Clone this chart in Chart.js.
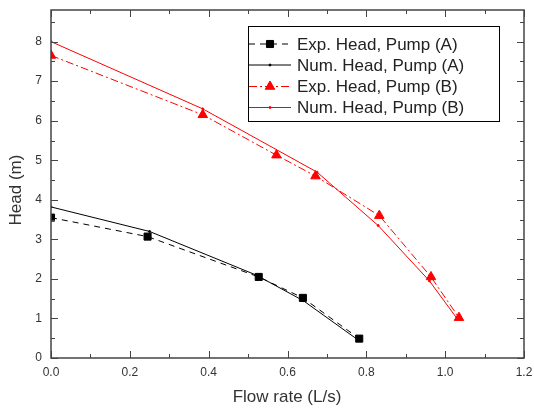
<!DOCTYPE html>
<html>
<head>
<meta charset="utf-8">
<script src="https://cdn.jsdelivr.net/npm/chart.js@4/dist/chart.umd.min.js"></script>
<style>
  html, body { margin: 0; padding: 0; background: #fff; }
  #wrap { width: 534px; height: 410px; }
</style>
</head>
<body>
<div id="wrap"><canvas id="chart" width="534" height="410"></canvas></div>
<script>
// values
var expAFlow = [0, 0.245, 0.527, 0.639, 0.782];
var expAHead = [3.55, 3.07, 2.05, 1.52, 0.49];
var numAFlow = [0, 0.25, 0.52, 0.64, 0.78];
var numAHead = [3.82, 3.2, 2.1, 1.45, 0.45];
var expBFlow = [0, 0.385, 0.572, 0.671, 0.833, 0.964, 1.035];
var expBHead = [7.65, 6.15, 5.13, 4.6, 3.6, 2.05, 1.02];
var numBFlow = [0, 0.385, 0.675, 0.83, 0.96, 1.03];
var numBHead = [8.0, 6.3, 4.7, 3.35, 1.95, 1.0];
var seriesLabels = ['Exp. Head, Pump (A)', 'Num. Head, Pump (A)', 'Exp. Head, Pump (B)', 'Num. Head, Pump (B)'];
var xTicks = [0, 0.2, 0.4, 0.6, 0.8, 1.0, 1.2];
var xMinorTicks = [0.1, 0.3, 0.5, 0.7, 0.9, 1.1];
var yTicks = [0, 1, 2, 3, 4, 5, 6, 7, 8];
var yMinorTicks = [0.5, 1.5, 2.5, 3.5, 4.5, 5.5, 6.5, 7.5, 8.5];
var xTitle = 'Flow rate (L/s)';
var yTitle = 'Head (m)';

var FONT = '"Liberation Sans", Arial, sans-serif';
Chart.defaults.font.family = FONT;

function pts(xs, ys) {
  return xs.map(function(x, i) { return { x: x, y: ys[i] }; });
}

var frame = {
  id: 'frame',
  afterDraw: function(chart) {
    var ctx = chart.ctx, a = chart.chartArea;
    var sx = chart.scales.x, sy = chart.scales.y;
    ctx.save();
    ctx.strokeStyle = '#444';
    ctx.lineWidth = 1.5;
    ctx.strokeRect(a.left, a.top, a.right - a.left, a.bottom - a.top);
    ctx.lineWidth = 1;
    function tickX(v, len) {
      var p = Math.round(sx.getPixelForValue(v)) + 0.5;
      ctx.beginPath();
      ctx.moveTo(p, a.bottom); ctx.lineTo(p, a.bottom - len);
      ctx.moveTo(p, a.top); ctx.lineTo(p, a.top + len);
      ctx.stroke();
    }
    function tickY(v, len) {
      var p = Math.round(sy.getPixelForValue(v)) + 0.5;
      ctx.beginPath();
      ctx.moveTo(a.left, p); ctx.lineTo(a.left + len, p);
      ctx.moveTo(a.right, p); ctx.lineTo(a.right - len, p);
      ctx.stroke();
    }
    xTicks.forEach(function(v) { tickX(v, 7); });
    xMinorTicks.forEach(function(v) { tickX(v, 4); });
    yTicks.forEach(function(v) { tickY(v, 7); });
    yMinorTicks.forEach(function(v) { tickY(v, 4); });

    // axis titles
    ctx.fillStyle = '#333';
    ctx.font = '17px ' + FONT;
    ctx.textAlign = 'center';
    ctx.textBaseline = 'middle';
    ctx.fillText(xTitle, 287, 397);
    ctx.save();
    ctx.translate(16, 190);
    ctx.rotate(-Math.PI / 2);
    ctx.fillText(yTitle, 0, 0);
    ctx.restore();

    // legend box
    var bx = 248, by = 26, bw = 251, bh = 95;
    ctx.fillStyle = '#fff';
    ctx.fillRect(bx, by, bw, bh);
    ctx.strokeStyle = '#000';
    ctx.lineWidth = 1;
    ctx.strokeRect(bx + 0.5, by + 0.5, bw, bh);
    var rows = [44, 65, 86.5, 107.5];
    chart.data.datasets.forEach(function(ds, i) {
      var y = rows[i];
      ctx.save();
      ctx.strokeStyle = ds.borderColor;
      ctx.lineWidth = ds.borderWidth;
      ctx.setLineDash(ds.borderDash || []);
      ctx.beginPath();
      ctx.moveTo(249, y); ctx.lineTo(291, y);
      ctx.stroke();
      ctx.setLineDash([]);
      ctx.fillStyle = ds.pointBackgroundColor;
      ctx.strokeStyle = ds.pointBorderColor;
      Chart.helpers.drawPoint(ctx, { pointStyle: ds.pointStyle, radius: ds.pointRadius, rotation: 0, borderWidth: 1 }, 270, y);
      ctx.restore();
      ctx.fillStyle = '#222';
      ctx.font = '17px ' + FONT;
      ctx.textAlign = 'left';
      ctx.textBaseline = 'middle';
      ctx.fillText(ds.label, 297, y + 1);
    });
    ctx.restore();
  }
};

new Chart(document.getElementById('chart'), {
  type: 'line',
  data: {
    datasets: [
      { label: seriesLabels[0], data: pts(expAFlow, expAHead), borderColor: '#000', borderWidth: 1,
        borderDash: [6, 5], pointStyle: 'rect', pointRadius: 5, pointBackgroundColor: '#000', pointBorderColor: '#000', clip: 0 },
      { label: seriesLabels[1], data: pts(numAFlow, numAHead), borderColor: '#000', borderWidth: 1,
        pointStyle: 'circle', pointRadius: 1, pointBackgroundColor: '#000', pointBorderColor: '#000', clip: 0 },
      { label: seriesLabels[2], data: pts(expBFlow, expBHead), borderColor: '#ff0000', borderWidth: 1,
        borderDash: [8, 3, 2, 3], pointStyle: 'triangle', pointRadius: 5.5, pointBackgroundColor: '#ff0000', pointBorderColor: '#ff0000', clip: 0 },
      { label: seriesLabels[3], data: pts(numBFlow, numBHead), borderColor: '#ff0000', borderWidth: 1,
        pointStyle: 'circle', pointRadius: 1, pointBackgroundColor: '#ff0000', pointBorderColor: '#ff0000', clip: 0 }
    ]
  },
  options: {
    responsive: false, animation: false,
    layout: { padding: { top: 10, right: 10, left: 0, bottom: 0 } },
    plugins: { legend: { display: false }, tooltip: { enabled: false } },
    scales: {
      x: {
        type: 'linear', min: 0, max: 1.2,
        grid: { display: false, drawTicks: false }, border: { display: false },
        ticks: { stepSize: 0.2, padding: 7, color: '#333', font: { size: 12 }, maxRotation: 0,
          callback: function(v) { return v.toFixed(1); } },
        afterFit: function(s) { s.height = 52; s.paddingLeft = 0; s.paddingRight = 0; }
      },
      y: {
        type: 'linear', min: 0, max: 8.8,
        grid: { display: false, drawTicks: false }, border: { display: false },
        ticks: { stepSize: 1, includeBounds: false, padding: 9, color: '#333', font: { size: 12 },
          callback: function(v) { return String(v); } },
        afterFit: function(s) { s.width = 51; s.paddingTop = 0; s.paddingBottom = 0; }
      }
    }
  },
  plugins: [frame]
});
</script>
</body>
</html>
